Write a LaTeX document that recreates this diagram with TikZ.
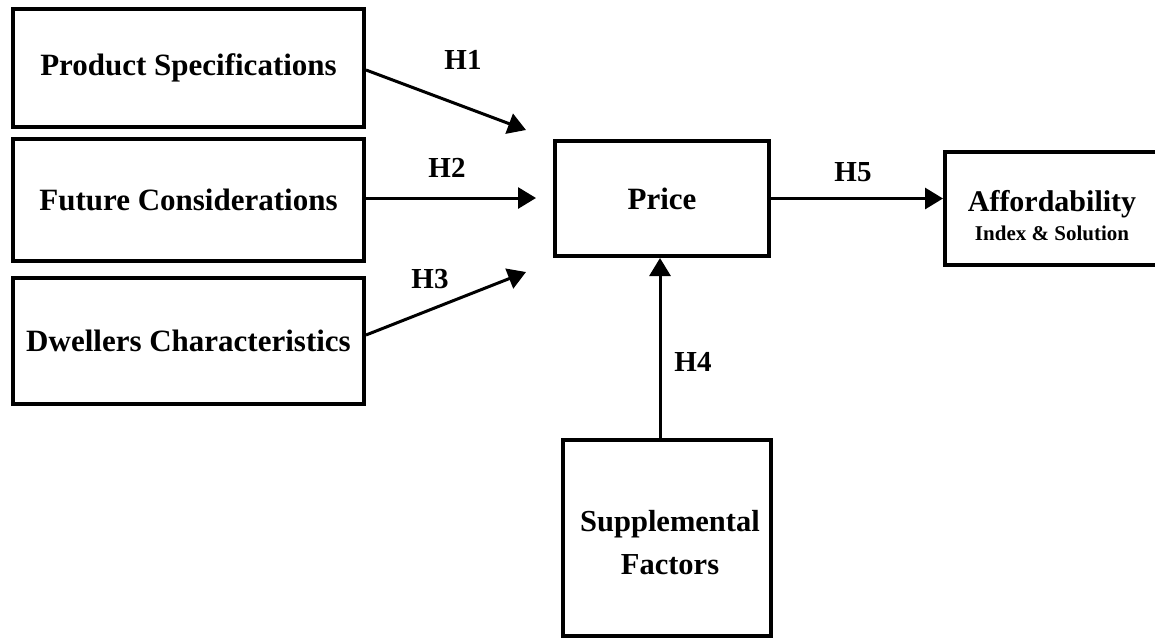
\documentclass[tikz,border=0pt]{standalone}
\usepackage{fontspec}
\setmainfont{Liberation Serif}
\usetikzlibrary{arrows.meta}
\begin{document}
\begin{tikzpicture}[x=1pt,y=-1pt,
  box/.style={draw=black, line width=4pt, inner sep=0pt, font=\bfseries\fontsize{31}{43}\selectfont, align=center},
  txt/.style={inner sep=0pt, font=\bfseries\fontsize{30.5}{43}\selectfont, align=center},
  conn/.style={line width=3pt, -{Triangle[length=18pt,width=21pt]}},
  hlab/.style={font=\bfseries\fontsize{29}{30}\selectfont, inner sep=0pt}]
\useasboundingbox (0,0) rectangle (1155,641);
\node[box, minimum width=351pt, minimum height=118pt] (ps) at (188.5,68) {Product Specifications};
\node[box, minimum width=351pt, minimum height=122pt] (fc) at (188.5,200) {Future Considerations};
\node[box, minimum width=351pt, minimum height=126pt] (dc) at (188.5,341) {Dwellers Characteristics};
\node[box, minimum width=214pt, minimum height=115pt] (price) at (662,198.5) {Price};
\node[box, minimum width=214pt, minimum height=113pt] (aff) at (1052,208.5) {};
\node[txt, font=\bfseries\fontsize{30}{30}\selectfont] (afft) at (1052,204) {Affordability};
\node[txt, font=\bfseries\fontsize{21}{21}\selectfont] (affs) at (1052,233) {Index \& Solution};
\node[box, minimum width=208pt, minimum height=196pt] (sup) at (667,538) {};
\node[txt] (supt) at (670,543) {Supplemental\\Factors};
\coordinate (t1) at (526,130);
\coordinate (t2) at (536,198);
\coordinate (t3) at (526,272);
\draw[conn] ([yshift=-2pt]ps.east) -- (t1);
\draw[conn] ([yshift=2pt]fc.east) -- (t2);
\draw[conn] ([yshift=6pt]dc.east) -- (t3);
\draw[conn] (sup.north -| 660,0) -- (price.south -| 660,0);
\draw[conn] (price.east) -- (price.east -| aff.west);
\node[hlab] (h1) at (463,60) {H1};
\node[hlab] (h2) at (447,168) {H2};
\node[hlab] (h3) at (430,279) {H3};
\node[hlab] (h4) at (693,362) {H4};
\node[hlab] (h5) at (853,172) {H5};
\end{tikzpicture}
\end{document}
